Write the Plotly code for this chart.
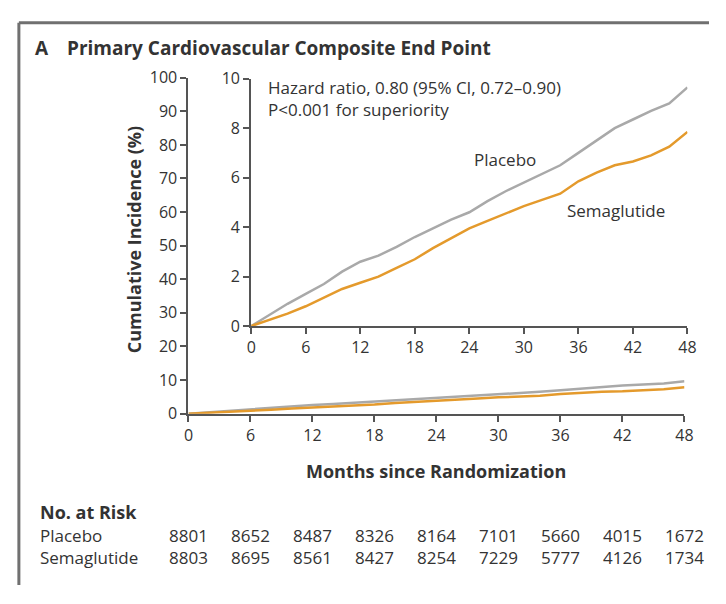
import plotly.graph_objects as go

# page keeps the browser's 8px body margin, so the figure is drawn 16px smaller
# and every reference pixel position is shifted by that margin
PAGE_W, PAGE_H = 726, 604
MARGIN = 8
W, H = PAGE_W - 2 * MARGIN, PAGE_H - 2 * MARGIN

months = [0, 2, 4, 6, 8, 10, 12, 14, 16, 18, 20, 22, 24,
          26, 28, 30, 32, 34, 36, 38, 40, 42, 44, 46, 48]
placebo = [0, 0.45, 0.9, 1.3, 1.7, 2.2, 2.6, 2.85, 3.2, 3.6, 3.95, 4.3, 4.6,
           5.05, 5.45, 5.8, 6.15, 6.5, 7.0, 7.5, 8.0, 8.35, 8.7, 9.0, 9.65]
semaglutide = [0, 0.25, 0.5, 0.8, 1.15, 1.5, 1.75, 2.0, 2.35, 2.7, 3.15, 3.55, 3.95,
               4.25, 4.55, 4.85, 5.1, 5.35, 5.85, 6.2, 6.5, 6.65, 6.9, 7.25, 7.85]

risk_months = [0, 6, 12, 18, 24, 30, 36, 42, 48]
risk_placebo = [8801, 8652, 8487, 8326, 8164, 7101, 5660, 4015, 1672]
risk_semaglutide = [8803, 8695, 8561, 8427, 8254, 7229, 5777, 4126, 1734]

PLACEBO_COLOR = "#a9a9a9"
SEMA_COLOR = "#e49a2c"
AXIS_COLOR = "#555555"
TEXT_COLOR = "#333333"
FONT = "Open Sans"


def px(x):
    return (x - MARGIN) / W


def py(y):
    return 1 - (y - MARGIN) / H


fig = go.Figure()
for xa, ya in (("x", "y"), ("x2", "y2")):
    fig.add_trace(go.Scatter(x=months, y=placebo, mode="lines", xaxis=xa, yaxis=ya,
                             line=dict(color=PLACEBO_COLOR, width=2.5), showlegend=False))
    fig.add_trace(go.Scatter(x=months, y=semaglutide, mode="lines", xaxis=xa, yaxis=ya,
                             line=dict(color=SEMA_COLOR, width=2.5), showlegend=False))

axis_style = dict(
    showline=True, linecolor=AXIS_COLOR, linewidth=2, ticks="outside",
    tickcolor=AXIS_COLOR, tickwidth=2, ticklen=6, showgrid=False, zeroline=False,
    tickfont=dict(family=FONT, size=16, color=TEXT_COLOR),
)

fig.update_layout(
    width=W, height=H,
    margin=dict(l=0, r=0, t=0, b=0),
    paper_bgcolor="white", plot_bgcolor="rgba(0,0,0,0)",
    font=dict(family=FONT, color=TEXT_COLOR),
    xaxis=dict(domain=[px(187), px(693)], range=[0, 48], tickvals=risk_months,
               anchor="y", **axis_style),
    yaxis=dict(domain=[py(418), py(69)], range=[0, 100], dtick=10,
               anchor="x", **axis_style),
    xaxis2=dict(domain=[px(251), px(696)], range=[0, 48], tickvals=risk_months,
                anchor="y2", **axis_style),
    yaxis2=dict(domain=[py(327), py(70)], range=[0, 10], dtick=2,
                anchor="x2", **axis_style),
)

annotations = [
    dict(x=px(28), y=py(38), text="<b>A</b>", font=dict(size=19)),
    dict(x=px(61), y=py(38), text="<b>Primary Cardiovascular Composite End Point</b>",
         font=dict(size=19)),
    dict(x=px(266), y=py(91), text="Hazard ratio, 0.80 (95% CI, 0.72–0.90)<br>"
         "P<0.001 for superiority", font=dict(size=17)),
    dict(x=px(476), y=py(154), text="Placebo", font=dict(size=17)),
    dict(x=px(571), y=py(207), text="Semaglutide", font=dict(size=17)),
    dict(x=px(34), y=py(520), text="<b>No. at Risk</b>", font=dict(size=18)),
    dict(x=px(34), y=py(545), text="Placebo", font=dict(size=17)),
    dict(x=px(34), y=py(567), text="Semaglutide", font=dict(size=17)),
]
for a in annotations:
    a.update(xref="paper", yref="paper", xanchor="left", yanchor="middle",
             align="left", showarrow=False)

annotations.append(dict(x=px(440), y=py(478), xref="paper", yref="paper",
                        text="<b>Months since Randomization</b>", showarrow=False,
                        yanchor="middle", font=dict(size=18)))
annotations.append(dict(x=px(118), y=py(237), xref="paper", yref="paper",
                        text="<b>Cumulative Incidence (%)</b>", textangle=-90,
                        showarrow=False, yanchor="middle", font=dict(size=18)))

for m, p_val, s_val in zip(risk_months, risk_placebo, risk_semaglutide):
    annotations.append(dict(x=m, y=py(545), xref="x", yref="paper", text=str(p_val),
                            showarrow=False, yanchor="middle", font=dict(size=17)))
    annotations.append(dict(x=m, y=py(567), xref="x", yref="paper", text=str(s_val),
                            showarrow=False, yanchor="middle", font=dict(size=17)))

fig.update_layout(annotations=annotations)

# frame around the panel
fig.add_shape(type="line", xref="paper", yref="paper", x0=px(14), y0=py(12), x1=1, y1=py(12),
              line=dict(color="#707070", width=3))
fig.add_shape(type="line", xref="paper", yref="paper", x0=px(14), y0=py(12), x1=px(14), y1=0,
              line=dict(color="#707070", width=3))

fig.write_html("out.html", config={"displayModeBar": False})
